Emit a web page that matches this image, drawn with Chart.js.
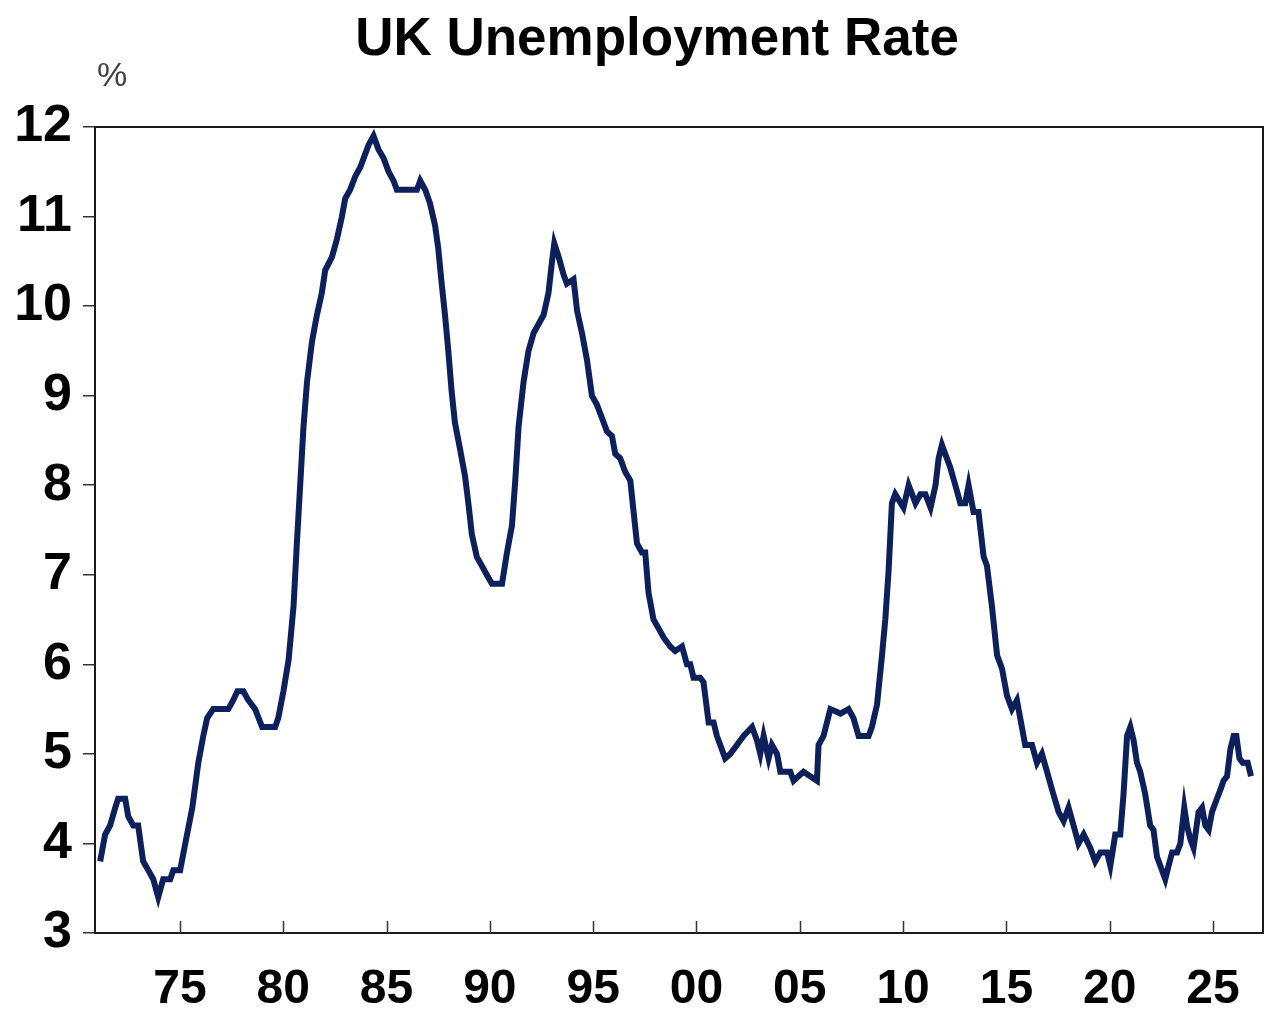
<!DOCTYPE html>
<html>
<head>
<meta charset="utf-8">
<title>UK Unemployment Rate</title>
<script src="https://cdn.jsdelivr.net/npm/chart.js@4.4.1/dist/chart.umd.min.js"></script>
<style>
  html, body { margin: 0; padding: 0; background: #fff; }
  #wrap { width: 1280px; height: 1018px; }
</style>
</head>
<body>
<div id="wrap"><canvas id="ukChart" width="1280" height="1018"></canvas></div>
<script>
// unemployment rate (%), by decade; dates are decimal years
var dates70s = [1971.14, 1971.38, 1971.62, 1971.87, 1972.01, 1972.35, 1972.50, 1972.74, 1972.98, 1973.22,
    1973.47, 1973.71, 1973.95, 1974.19, 1974.53, 1974.68, 1975.01, 1975.26, 1975.60, 1975.89,
    1976.13, 1976.32, 1976.61, 1977.34, 1977.58, 1977.78, 1978.07, 1978.31, 1978.64, 1978.98,
    1979.61, 1979.76];
var rates70s = [3.8, 4.1, 4.2, 4.4, 4.5, 4.5, 4.3, 4.2, 4.2, 3.8,
    3.7, 3.6, 3.4, 3.6, 3.6, 3.7, 3.7, 4.0, 4.4, 4.9,
    5.2, 5.4, 5.5, 5.5, 5.6, 5.7, 5.7, 5.6, 5.5, 5.3,
    5.3, 5.4];

var dates80s = [1980.01, 1980.26, 1980.50, 1980.66, 1980.82, 1980.98, 1981.15, 1981.39, 1981.63, 1981.87,
    1982.03, 1982.36, 1982.60, 1982.84, 1983.00, 1983.24, 1983.49, 1983.73, 1983.89, 1984.13,
    1984.37, 1984.61, 1984.86, 1985.10, 1985.34, 1985.50, 1986.47, 1986.63, 1986.87, 1987.10,
    1987.35, 1987.50, 1987.67, 1987.83, 1987.99, 1988.15, 1988.31, 1988.56, 1988.80, 1988.96,
    1989.13, 1989.37, 1989.61, 1989.85];
var rates80s = [5.7, 6.05, 6.65, 7.35, 8.0, 8.65, 9.15, 9.6, 9.9, 10.15,
    10.4, 10.55, 10.75, 11.0, 11.2, 11.3, 11.45, 11.55, 11.65, 11.8,
    11.9, 11.75, 11.65, 11.5, 11.4, 11.3, 11.3, 11.4, 11.3, 11.15,
    10.9, 10.65, 10.25, 9.9, 9.5, 9.05, 8.7, 8.4, 8.1, 7.8,
    7.45, 7.2, 7.1, 7.0];

var dates90s = [1990.10, 1990.59, 1990.83, 1991.07, 1991.23, 1991.39, 1991.63, 1991.87, 1992.12, 1992.36,
    1992.60, 1992.84, 1993.01, 1993.12, 1993.33, 1993.57, 1993.73, 1994.05, 1994.22, 1994.46,
    1994.70, 1994.94, 1995.18, 1995.43, 1995.67, 1995.91, 1996.07, 1996.31, 1996.55, 1996.80,
    1996.96, 1997.12, 1997.36, 1997.52, 1997.68, 1997.92, 1998.17, 1998.41, 1998.73, 1998.97,
    1999.30, 1999.54, 1999.70, 1999.86];
var rates90s = [6.9, 6.9, 7.25, 7.55, 8.05, 8.65, 9.15, 9.5, 9.7, 9.8,
    9.9, 10.15, 10.5, 10.7, 10.55, 10.35, 10.25, 10.3, 9.95, 9.7,
    9.4, 9.0, 8.9, 8.75, 8.6, 8.55, 8.35, 8.3, 8.15, 8.05,
    7.7, 7.35, 7.25, 7.25, 6.8, 6.5, 6.4, 6.3, 6.2, 6.15,
    6.2, 6.0, 6.0, 5.85];

var dates00s = [2000.18, 2000.34, 2000.59, 2000.83, 2000.99, 2001.39, 2001.64, 2001.96, 2002.28, 2002.69,
    2002.93, 2003.09, 2003.25, 2003.49, 2003.65, 2003.90, 2004.06, 2004.54, 2004.70, 2005.18,
    2005.83, 2005.91, 2006.15, 2006.48, 2006.97, 2007.36, 2007.60, 2007.85, 2008.33, 2008.49,
    2008.74, 2008.98, 2009.14, 2009.30, 2009.46, 2009.62];
var rates00s = [5.85, 5.8, 5.35, 5.35, 5.2, 4.95, 5.0, 5.1, 5.2, 5.3,
    5.15, 5.0, 5.2, 4.95, 5.1, 5.0, 4.8, 4.8, 4.7, 4.8,
    4.7, 5.1, 5.2, 5.5, 5.45, 5.5, 5.4, 5.2, 5.2, 5.3,
    5.55, 6.1, 6.5, 7.05, 7.8, 7.9];

var dates10s = [2010.02, 2010.27, 2010.60, 2010.84, 2011.08, 2011.33, 2011.57, 2011.72, 2011.88, 2012.12,
    2012.28, 2012.53, 2012.77, 2013.01, 2013.17, 2013.41, 2013.65, 2013.90, 2014.06, 2014.30,
    2014.55, 2014.79, 2015.03, 2015.27, 2015.51, 2015.91, 2016.24, 2016.48, 2016.72, 2016.97,
    2017.21, 2017.53, 2017.77, 2018.01, 2018.25, 2018.49, 2018.74, 2019.06, 2019.30, 2019.55,
    2019.87];
var rates10s = [7.75, 8.0, 7.8, 7.9, 7.9, 7.75, 8.0, 8.3, 8.45, 8.3,
    8.2, 8.0, 7.8, 7.8, 8.0, 7.7, 7.7, 7.2, 7.1, 6.65,
    6.1, 5.95, 5.65, 5.5, 5.6, 5.1, 5.1, 4.9, 5.0, 4.8,
    4.6, 4.35, 4.25, 4.4, 4.2, 4.0, 4.1, 3.95, 3.8, 3.9,
    3.9];

var dates20s = [2020.03, 2020.27, 2020.51, 2020.67, 2020.84, 2021.00, 2021.16, 2021.32, 2021.48, 2021.72,
    2021.96, 2022.12, 2022.29, 2022.45, 2022.69, 2022.85, 2023.02, 2023.26, 2023.42, 2023.61,
    2023.74, 2023.90, 2024.06, 2024.30, 2024.47, 2024.63, 2024.79, 2024.95, 2025.19, 2025.36,
    2025.51, 2025.68, 2025.84, 2026.00, 2026.13, 2026.28, 2026.44, 2026.68, 2026.84];
var rates20s = [3.75, 4.1, 4.1, 4.55, 5.2, 5.3, 5.15, 4.9, 4.8, 4.55,
    4.2, 4.15, 3.85, 3.75, 3.6, 3.75, 3.9, 3.9, 4.0, 4.4,
    4.2, 4.05, 3.95, 4.35, 4.4, 4.2, 4.15, 4.35, 4.5, 4.6,
    4.7, 4.75, 5.05, 5.2, 5.2, 4.95, 4.9, 4.9, 4.75];

// axis ticks
var tickYears = [1975, 1980, 1985, 1990, 1995, 2000, 2005, 2010, 2015, 2020, 2025];
var tickLabels = ['75', '80', '85', '90', '95', '00', '05', '10', '15', '20', '25'];

var allDates = dates70s.concat(dates80s, dates90s, dates00s, dates10s, dates20s);
var allRates = rates70s.concat(rates80s, rates90s, rates00s, rates10s, rates20s);
var points = allDates.map(function (d, i) {
    return { x: d, y: allRates[i] };
});

// frame, inward x tick marks, title and unit label
var decorPlugin = {
    id: 'decor',
    afterDraw: function (chart) {
        var ctx = chart.ctx;
        var a = chart.chartArea;
        var xs = chart.scales.x;
        ctx.save();
        ctx.strokeStyle = '#1a1a1a';
        ctx.lineWidth = 2;
        ctx.strokeRect(a.left, a.top, a.right - a.left, a.bottom - a.top);

        ctx.strokeStyle = '#333';
        ctx.lineWidth = 1.5;
        tickYears.forEach(function (yr) {
            var px = Math.round(xs.getPixelForValue(yr)) + 0.5;
            ctx.beginPath();
            ctx.moveTo(px, a.bottom);
            ctx.lineTo(px, a.bottom - 12);
            ctx.stroke();
        });

        ctx.fillStyle = '#000';
        ctx.textAlign = 'center';
        ctx.textBaseline = 'alphabetic';
        ctx.font = 'bold 53px "Liberation Sans", Arial, sans-serif';
        ctx.fillText('UK Unemployment Rate', 657, 55);

        ctx.fillStyle = '#404040';
        ctx.font = '34px "Liberation Sans", Arial, sans-serif';
        ctx.fillText('%', 112, 86);
        ctx.restore();
    }
};

var ctx = document.getElementById('ukChart').getContext('2d');
var ukChart = new Chart(ctx, {
    type: 'line',
    data: {
        datasets: [{
            label: 'UK unemployment rate',
            data: points,
            borderColor: '#0d205c',
            borderWidth: 6,
            pointRadius: 0,
            tension: 0,
            fill: false
        }]
    },
    options: {
        responsive: false,
        animation: false,
        layout: {
            padding: { top: 127, right: 17, bottom: 0, left: 0 }
        },
        plugins: {
            legend: { display: false },
            tooltip: { enabled: false }
        },
        scales: {
            x: {
                type: 'linear',
                min: 1970.89,
                max: 2027.42,
                afterFit: function (scale) { scale.height = 85; },
                afterBuildTicks: function (scale) {
                    scale.ticks = tickYears.map(function (v) { return { value: v }; });
                },
                grid: { display: false },
                border: { display: false },
                ticks: {
                    padding: 20,
                    maxRotation: 0,
                    color: '#000',
                    font: { family: '"Liberation Sans", Arial, sans-serif', size: 48, weight: 'bold' },
                    callback: function (value) {
                        return tickLabels[tickYears.indexOf(value)];
                    }
                }
            },
            y: {
                min: 3,
                max: 12,
                afterFit: function (scale) { scale.width = 95; },
                grid: {
                    drawOnChartArea: false,
                    drawTicks: true,
                    tickLength: 12,
                    color: '#333',
                    lineWidth: 1.5
                },
                border: { display: false },
                ticks: {
                    stepSize: 1,
                    padding: 11,
                    color: '#000',
                    font: { family: '"Liberation Sans", Arial, sans-serif', size: 52, weight: 'bold' }
                }
            }
        }
    },
    plugins: [decorPlugin]
});
</script>
</body>
</html>
